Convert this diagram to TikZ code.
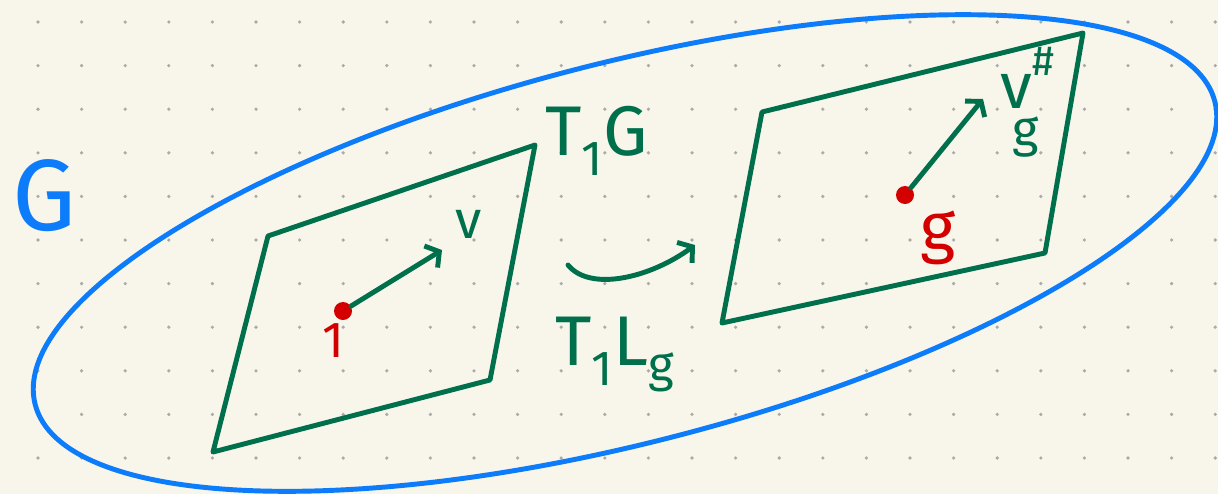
\documentclass[tikz,border=0pt]{standalone}
\usepackage{fontspec}
\setsansfont{Fira Sans}
\usetikzlibrary{arrows.meta}

\definecolor{paper}{RGB}{248,246,234}
\definecolor{dotgray}{RGB}{170,170,170}
\definecolor{penblue}{RGB}{12,124,250}
\definecolor{pengreen}{RGB}{0,112,76}
\definecolor{penred}{RGB}{212,0,0}

\tikzset{
  pen/.style={line width=3.5pt, line cap=round, line join=round},
  plane/.style={pen, draw=pengreen},
  vec/.style={pen, draw=pengreen, -{Straight Barb[length=7pt,width=18pt]}},
  pt/.style={circle, fill=penred, inner sep=0pt, minimum size=0.45cm},
  lbl/.style={inner sep=0pt, anchor=base west, font=\sffamily\fontsize{#1}{#1}\selectfont},
  lbl/.default=50,
}

\begin{document}
\begin{tikzpicture}[x=0.025cm,y=-0.025cm]
    \fill[paper] (0,0) rectangle (1218,494);
    \useasboundingbox (0,0) rectangle (1218,494);

    % dotted paper
    \foreach \i in {0,...,27}
        \foreach \j in {0,...,10}
            \fill[dotgray] ({38+43.6*\i},{22+43.6*\j}) circle[radius=1.8];

    % the group G
    \draw[pen, draw=penblue, rotate around={14.4:(625,253)}] (625,253) ellipse[x radius=609, y radius=190];
    \node[lbl=72, text=penblue] (G) at (12,230) {G};

    % tangent space at 1
    \coordinate (a-1) at (268,236);
    \coordinate (a-2) at (535,145);
    \coordinate (a-3) at (490,380);
    \coordinate (a-4) at (213,452);
    \draw[plane] (a-1) -- (a-2) -- (a-3) -- (a-4) -- cycle;

    % tangent space at g
    \coordinate (b-1) at (762,112);
    \coordinate (b-2) at (1083,33);
    \coordinate (b-3) at (1045,253);
    \coordinate (b-4) at (722,323);
    \draw[plane] (b-1) -- (b-2) -- (b-3) -- (b-4) -- cycle;

    \node (one) at (343,311) [pt] {};
    \node (g) at (905,195) [pt] {};

    \coordinate (v-tip) at (442,250);
    \coordinate (vg-tip) at (983,99);
    \draw[vec] (one) -- (v-tip);
    \draw[vec] (g) -- (vg-tip);

    % the map T_1 L_g
    \coordinate (map-1) at (568,265);
    \coordinate (map-2) at (695,245);
    \draw[vec] (map-1) .. controls (590,292) and (650,278) .. (map-2);

    \node[lbl=50, text=pengreen] (TG) at (545,155) {T\textsubscript{1}G};
    \node[lbl=50, text=pengreen] (TL) at (555,365) {T\textsubscript{1}L\textsubscript{g}};
    \node[lbl=38, text=pengreen] (v) at (455,238) {v};
    \node[lbl=46, text=pengreen] (vg) at (1000,108)
        {v\rlap{\raisebox{0.5em}{\fontsize{30}{30}\selectfont\#}}\kern-0.3em\raisebox{-0.6em}{\fontsize{36}{36}\selectfont g}};
    \node[lbl=36, text=penred] (one-lbl) at (322,357) {1};
    \node[lbl=48, text=penred] (g-lbl) at (920,250) {g};

\end{tikzpicture}
\end{document}
